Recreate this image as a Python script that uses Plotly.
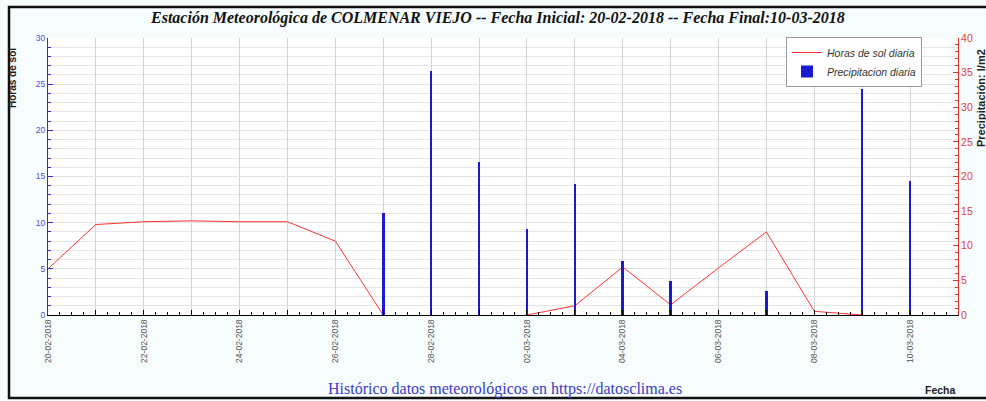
import plotly.graph_objects as go
import pandas as pd

dates = pd.date_range("2018-02-20", "2018-03-10", freq="D")
sun_hours = [5.0, 9.8, 10.1, 10.2, 10.1, 10.1, 8.0, 0.0, None, None, 0.0, 1.0, 5.2, 1.1, 5.1, 9.0, 0.4, 0.0, None]
precip = [0, 0, 0, 0, 0, 0, 0, 14.7, 35.2, 22.1, 12.4, 18.9, 7.8, 4.9, 0, 3.5, 0, 32.6, 19.4]
tick_labels = [d.strftime("%d-%m-%Y") if i % 2 == 0 else "" for i, d in enumerate(dates)]

title_text = "Estación Meteorológica de COLMENAR VIEJO -- Fecha Inicial: 20-02-2018 -- Fecha Final:10-03-2018"

W, H = 986, 401
L, R, T, B = 48, 28, 38, 86
pw, ph = W - L - R, H - T - B

def px(x):
    return (x - L) / pw

def py(y):
    return (H - B - y) / ph

fig = go.Figure()
fig.add_trace(go.Scatter(x=dates, y=sun_hours, mode="lines", name="<i>Horas de sol diaria</i>",
                         line=dict(color="#ff3030", width=1), yaxis="y", connectgaps=False))
fig.add_trace(go.Bar(x=dates, y=precip, name="<i>Precipitacion diaria</i>", yaxis="y2",
                     marker=dict(color="#1a1ad0", line=dict(width=0)), width=4.6e6))

def ann(text, x, y, size, color, family="Liberation Sans", angle=0):
    return dict(text=text, x=px(x), y=py(y), xref="paper", yref="paper", showarrow=False,
                xanchor="center", yanchor="middle", textangle=angle,
                font=dict(family=family, size=size, color=color))

fig.update_layout(
    width=W, height=H,
    margin=dict(l=L, r=R, t=T, b=B, autoexpand=False),
    paper_bgcolor="#f7fcfc",
    plot_bgcolor="#ffffff",
    showlegend=True,
    legend=dict(x=px(786), y=py(37), xanchor="left", yanchor="top",
                bgcolor="#ffffff", bordercolor="#999999", borderwidth=1,
                font=dict(family="Liberation Sans", size=10.5, color="#333333"),
                tracegroupgap=0, itemwidth=30),
    bargap=0,
    xaxis=dict(
        type="date",
        range=[pd.Timestamp("2018-02-20"), pd.Timestamp("2018-03-11")],
        tickmode="array", tickvals=list(dates), ticktext=tick_labels,
        tickangle=-90, tickfont=dict(family="Liberation Sans", size=8.5, color="#555555"),
        showgrid=True, gridcolor="#d4d4d4", gridwidth=1,
        ticks="inside", ticklen=5, tickcolor="#000000",
        showline=True, linecolor="#000000", linewidth=1,
        minor=dict(dtick=6 * 3600 * 1000, ticks="inside", ticklen=3, tickcolor="#000000", showgrid=False),
        zeroline=False, fixedrange=True, layer="above traces",
    ),
    yaxis=dict(
        range=[0, 30], dtick=5, tick0=0,
        tickfont=dict(family="Liberation Sans", size=8.5, color="#5050d8"),
        showgrid=True, gridcolor="#e2e2e2", gridwidth=1,
        ticks="inside", ticklen=5, tickcolor="#3030d0",
        showline=True, linecolor="#3030d0", linewidth=1,
        minor=dict(dtick=1, ticks="inside", ticklen=3, tickcolor="#3030d0", showgrid=True, gridcolor="#e6e6e6"),
        zeroline=False,
    ),
    yaxis2=dict(
        range=[0, 40], dtick=5, tick0=0, overlaying="y", side="right",
        tickfont=dict(family="Liberation Sans", size=10.5, color="#e04040"),
        showgrid=False,
        ticks="inside", ticklen=5, tickcolor="#e03030",
        showline=True, linecolor="#e03030", linewidth=1,
        minor=dict(dtick=1, ticks="inside", ticklen=3, tickcolor="#e03030", showgrid=False),
        zeroline=False,
    ),
    annotations=[
        ann("<b><i>" + title_text + "</i></b>", 497, 18, 16, "#111111", family="Liberation Serif"),
        ann("Histórico datos meteorológicos en https://datosclima.es", 505, 389, 16, "#3a3acc",
            family="Liberation Serif"),
        ann("<b>Fecha</b>", 940, 390, 10.5, "#222222"),
        ann("<b>Precipitación: l/m2</b>", 981, 98, 11, "#222222", angle=-90),
        ann("<b>Horas de sol</b>", 12, 78, 10, "#222222", angle=-90),
    ],
    shapes=[
        dict(type="rect", xref="paper", yref="paper", x0=px(9), x1=px(995), y0=py(398), y1=py(7),
             line=dict(color="#111111", width=2.5), layer="above"),
    ],
)

fig.write_html("out.html", config={"displayModeBar": False},
               post_script="document.body.style.margin='0';document.body.style.overflow='hidden';")
